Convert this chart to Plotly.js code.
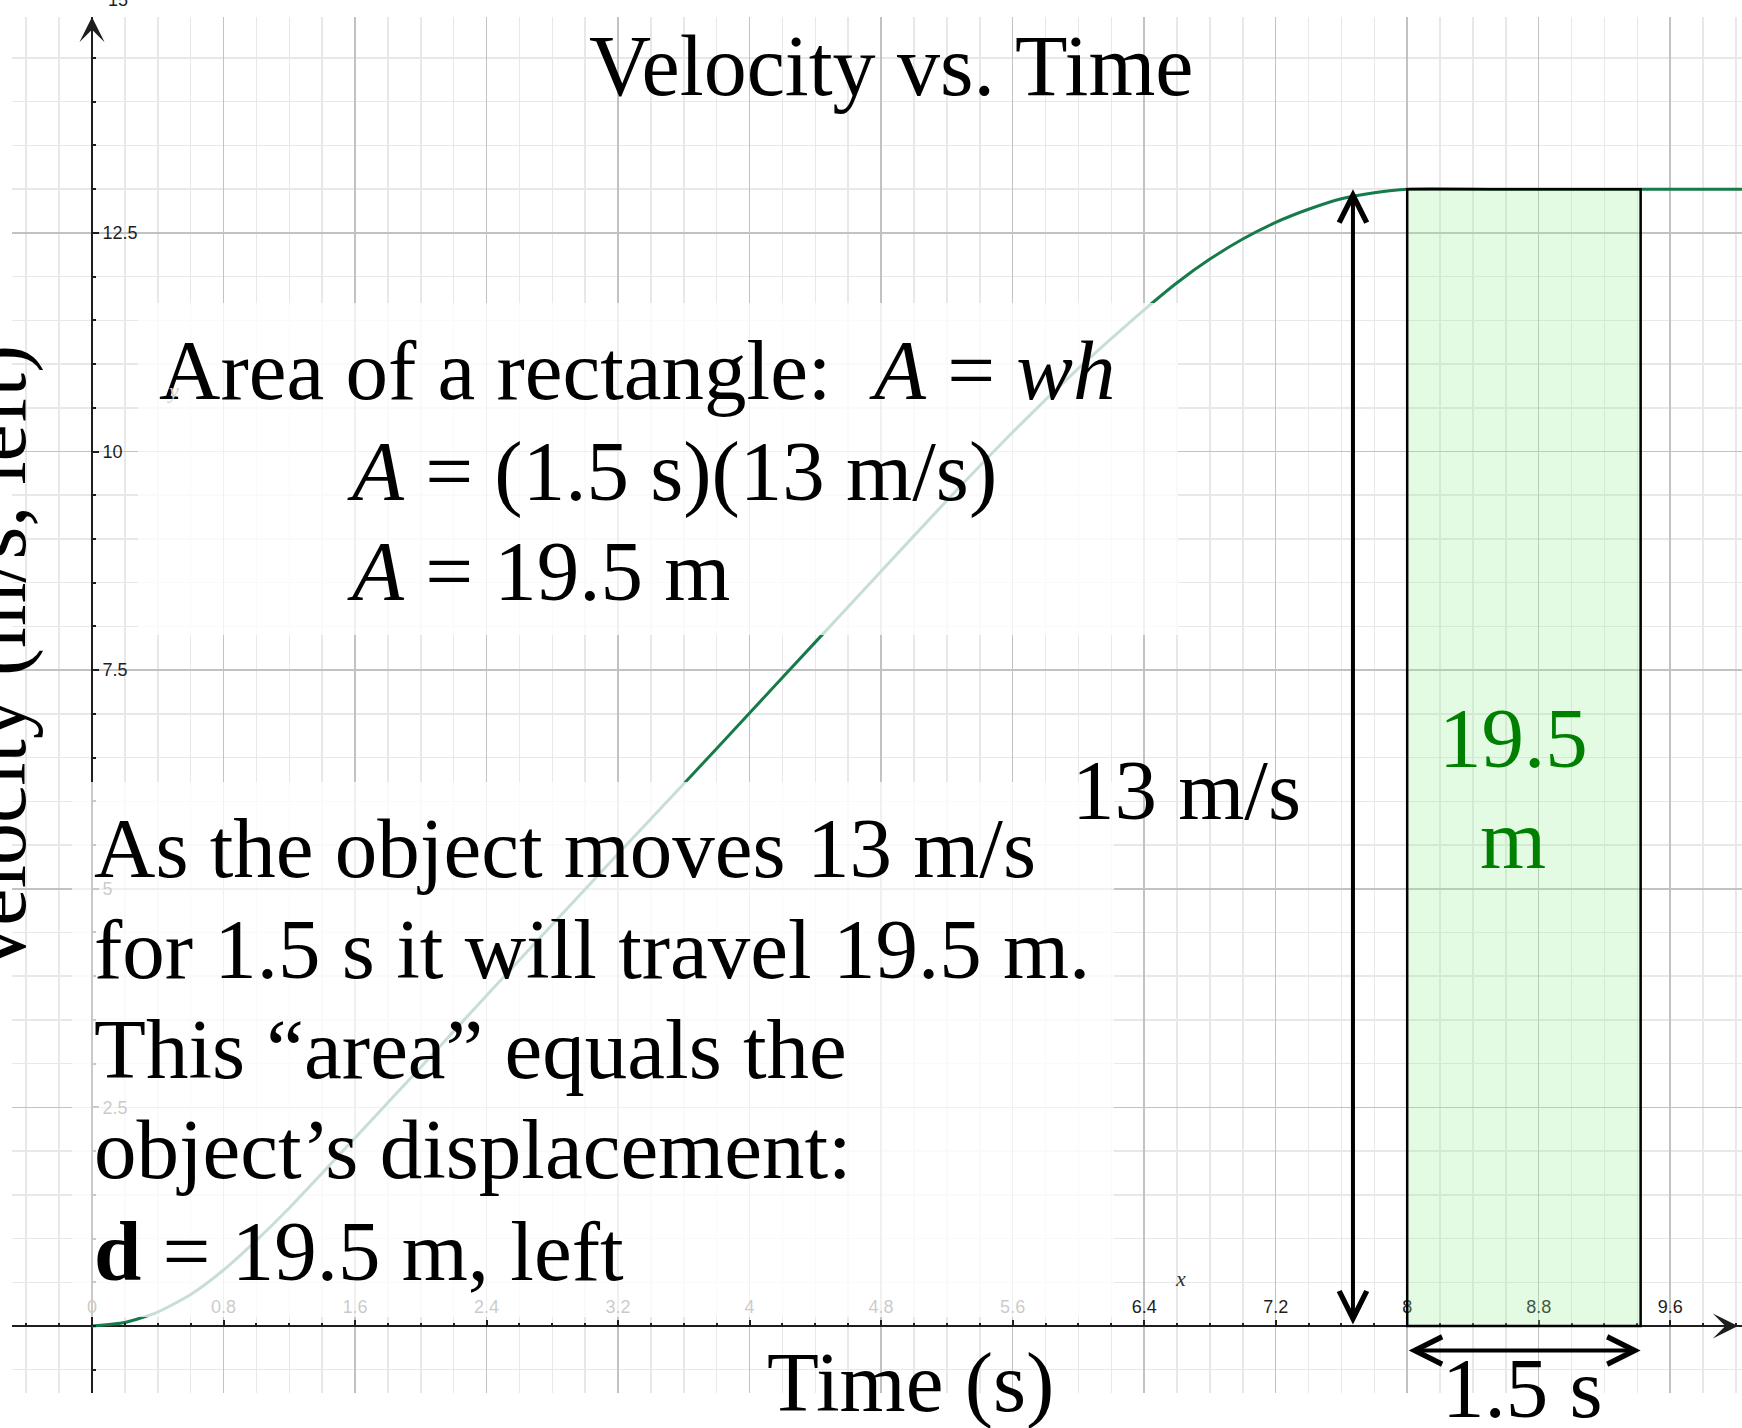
<!DOCTYPE html>
<html>
<head>
<meta charset="utf-8">
<script src="https://cdn.plot.ly/plotly-3.0.1.min.js"></script>
<style>html,body{margin:0;padding:0;background:#fff;}#chart{width:1742px;height:1428px;}</style>
</head>
<body>
<div id="chart"></div>
<script>
// ---- data ----
const time = [0, 0.2, 0.4, 0.6, 0.8, 1.0, 1.2, 1.6, 2.0, 2.4, 2.8, 3.2, 3.6, 4.0, 4.4, 4.8, 5.2, 5.6, 6.0, 6.2, 6.4, 6.6, 6.8, 7.0, 7.2, 7.4, 7.6, 7.8, 8.0, 8.5, 9.0, 9.5, 10.1];
const velocity = [0, 0.04, 0.16, 0.36, 0.64, 0.98, 1.35, 2.15, 2.96, 3.78, 4.59, 5.40, 6.20, 7.01, 7.82, 8.63, 9.44, 10.22, 10.95, 11.29, 11.62, 11.93, 12.2, 12.43, 12.62, 12.77, 12.89, 12.96, 13, 13, 13, 13, 13];
const xTickVals = [0, 0.8, 1.6, 2.4, 3.2, 4, 4.8, 5.6, 6.4, 7.2, 8, 8.8, 9.6];
const xTickText = ['0', '0.8', '1.6', '2.4', '3.2', '4', '4.8', '5.6', '6.4', '7.2', '8', '8.8', '9.6'];
const yTickVals = [2.5, 5, 7.5, 10, 12.5];
const yTickText = ['2.5', '5', '7.5', '10', '12.5'];
const rectTime = [8.0, 9.42];      // start / end of the 1.5 s interval as drawn
const rectVel = [0, 13];           // rectangle height: 13 m/s
const heightArrowTime = 7.67;      // where the 13 m/s arrow stands
const widthArrowVel = -0.28;       // where the 1.5 s arrow lies

// ---- page geometry ----
const W = 1742, H = 1428, ML = 12, MR = 0, MT = 17, MB = 35;
const X0 = 92, Y0 = 1326, SX = 164.4, SY = 87.45;   // pixel of origin, px per unit
const xRange = [(ML - X0) / SX, (W - MR - X0) / SX];
const yRange = [(Y0 - (H - MB)) / SY, (Y0 - MT) / SY];
const dX = p => (p - X0) / SX;          // pixel -> data
const dY = p => (Y0 - p) / SY;
const pX = p => (p - ML) / (W - ML - MR); // pixel -> paper
const pY = p => (H - MB - p) / (H - MT - MB);

const xPos = (0 - yRange[0]) / (yRange[1] - yRange[0]);
const yPos = (0 - xRange[0]) / (xRange[1] - xRange[0]);

const AXC = '#1e1e1e';
const MAJ = '#c2c2c2', MIN = '#e8e8e8';
const SERIF = '"Liberation Serif", "Times New Roman", serif';
const SANS = '"Liberation Sans", Arial, sans-serif';

const traces = [{
  type: 'scatter', mode: 'lines', x: time, y: velocity,
  line: {color: '#177a4a', width: 3, shape: 'spline', smoothing: 0.6},
  hoverinfo: 'skip', showlegend: false, xaxis: 'x', yaxis: 'y'
}];

function txt(text, xpx, ypxCenter, size, opts) {
  return Object.assign({
    text: text, xref: 'paper', yref: 'paper', x: pX(xpx), y: pY(ypxCenter),
    xanchor: 'left', yanchor: 'middle', showarrow: false,
    font: {family: SERIF, size: size, color: '#000'}
  }, opts || {});
}
const F = 85, C = 29; // font size, baseline->center offset
const NB = '\u00a0';

const annotations = [
  txt('Area of a rectangle:' + NB + NB + '<i>A</i> = <i>wh</i>', 157, 399 - C, F),
  txt('<i>A</i> = (1.5 s)(13 m/s)', 345, 501 - C, F),
  txt('<i>A</i> = 19.5 m', 345, 600 - C, F),
  txt('As the object moves 13 m/s', 92, 877 - C, F),
  txt('for 1.5 s it will travel 19.5 m.', 92, 978 - C, F),
  txt('This “area” equals the', 92, 1078 - C, F),
  txt('object’s displacement:', 92, 1178 - C, F),
  txt('<b>d</b> = 19.5 m, left', 92, 1280 - C, F),
  txt('13 m/s', 1070, 819 - C, F),
  txt('19.5', 1513, 767 - C, F, {xanchor: 'center', font: {family: SERIF, size: F, color: '#008000'}}),
  txt('m', 1513, 868 - C, F, {xanchor: 'center', font: {family: SERIF, size: F, color: '#008000'}}),
  txt('1.5 s', 1522, 1417 - C, F, {xanchor: 'center'}),
  txt('Time (s)', 910, 1411 - C, F, {xanchor: 'center'}),
  txt('Velocity vs. Time', 891, 95 - C, 86, {xanchor: 'center'}),
  txt('Velocity (m/s, left)', -3, 661, 84, {xanchor: 'center', textangle: -90}),
  txt('<i>x</i>', 1180, 1278, 22, {xanchor: 'center', font: {family: SERIF, size: 22, color: '#333'}}),
  txt('<i>y</i>', 173, 390, 22, {xanchor: 'center', font: {family: SERIF, size: 22, color: '#d0d0d0'}}),
  txt('15', 118, 0, 18, {xanchor: 'center', font: {family: SANS, size: 18, color: AXC}}),
  // axis arrowheads
  {x: 0, y: dY(17), ax: 0, ay: dY(70), xref: 'x', yref: 'y', axref: 'x', ayref: 'y', text: '',
   showarrow: true, arrowhead: 3, arrowsize: 2.1, arrowwidth: 2, arrowcolor: AXC, standoff: 0},
  {x: dX(1738), y: 0, ax: dX(1680), ay: 0, xref: 'x', yref: 'y', axref: 'x', ayref: 'y', text: '',
   showarrow: true, arrowhead: 3, arrowsize: 2.1, arrowwidth: 2, arrowcolor: AXC, standoff: 0},
  // 13 m/s double arrow
  {x: heightArrowTime, y: rectVel[1], ax: heightArrowTime, ay: rectVel[0], xref: 'x', yref: 'y', axref: 'x', ayref: 'y',
   text: '', showarrow: true, arrowside: 'end+start', arrowhead: 5, startarrowhead: 5,
   arrowsize: 1.35, startarrowsize: 1.35, arrowwidth: 4, arrowcolor: '#000', standoff: 0, startstandoff: 0},
  // 1.5 s double arrow
  {x: rectTime[1], y: widthArrowVel, ax: rectTime[0], ay: widthArrowVel, xref: 'x', yref: 'y', axref: 'x', ayref: 'y',
   text: '', showarrow: true, arrowside: 'end+start', arrowhead: 5, startarrowhead: 5,
   arrowsize: 1.35, startarrowsize: 1.35, arrowwidth: 4, arrowcolor: '#000', standoff: 0, startstandoff: 0}
];

const shapes = [
  // translucent white text panels
  {type: 'rect', xref: 'x', yref: 'y', x0: dX(138), x1: dX(1178), y0: dY(635), y1: dY(303),
   fillcolor: 'rgba(255,255,255,0.76)', line: {width: 0}, layer: 'above'},
  {type: 'rect', xref: 'x', yref: 'y', x0: dX(72), x1: dX(1114), y0: dY(1317), y1: dY(782),
   fillcolor: 'rgba(255,255,255,0.76)', line: {width: 0}, layer: 'above'},
  // the area rectangle
  {type: 'rect', xref: 'x', yref: 'y', x0: rectTime[0], x1: rectTime[1], y0: rectVel[0], y1: rectVel[1],
   fillcolor: 'rgba(150,236,150,0.27)', line: {color: '#000', width: 2.5}, layer: 'above'}
];

const tickCommon = {tickcolor: AXC, tickwidth: 2};
const layout = {
  width: W, height: H,
  margin: {l: ML, r: MR, t: MT, b: MB, pad: 0},
  paper_bgcolor: '#fff', plot_bgcolor: '#fff',
  showlegend: false, hovermode: false,
  xaxis: Object.assign({
    range: xRange, anchor: 'free', position: xPos, side: 'top',
    tickmode: 'array', tickvals: xTickVals, ticktext: xTickText,
    ticks: 'outside', ticklen: 6,
    showgrid: true, gridcolor: MAJ, gridwidth: 1.5,
    minor: {dtick: 0.2, tick0: 0, ticks: 'outside', ticklen: 3, tickwidth: 2, tickcolor: AXC,
            showgrid: true, gridcolor: MIN, gridwidth: 1.5},
    zeroline: true, zerolinecolor: AXC, zerolinewidth: 2, showline: false,
    tickfont: {family: SANS, size: 18, color: AXC}, fixedrange: true
  }, tickCommon),
  xaxis2: Object.assign({
    range: xRange, overlaying: 'x', anchor: 'free', position: xPos, side: 'bottom',
    tickmode: 'array', tickvals: xTickVals, showticklabels: false,
    ticks: 'outside', ticklen: 6,
    minor: {dtick: 0.2, tick0: 0, ticks: 'outside', ticklen: 3, tickwidth: 2, tickcolor: AXC, showgrid: false},
    showgrid: false, zeroline: false, showline: false, fixedrange: true
  }, tickCommon),
  yaxis: Object.assign({
    range: yRange, anchor: 'free', position: yPos, side: 'right',
    tickmode: 'array', tickvals: yTickVals, ticktext: yTickText,
    ticks: 'outside', ticklen: 6,
    showgrid: true, gridcolor: MAJ, gridwidth: 1.5,
    minor: {dtick: 0.5, tick0: 0, ticks: 'outside', ticklen: 3, tickwidth: 2, tickcolor: AXC,
            showgrid: true, gridcolor: MIN, gridwidth: 1.5},
    zeroline: true, zerolinecolor: AXC, zerolinewidth: 2, showline: false,
    tickfont: {family: SANS, size: 18, color: AXC}, fixedrange: true
  }, tickCommon),
  yaxis2: Object.assign({
    range: yRange, overlaying: 'y', anchor: 'free', position: yPos, side: 'left',
    tickmode: 'array', tickvals: yTickVals, showticklabels: false,
    ticks: 'outside', ticklen: 6,
    minor: {dtick: 0.5, tick0: 0, ticks: 'outside', ticklen: 3, tickwidth: 2, tickcolor: AXC, showgrid: false},
    showgrid: false, zeroline: false, showline: false, fixedrange: true
  }, tickCommon),
  shapes: shapes,
  annotations: annotations
};

Plotly.newPlot('chart', traces, layout, {staticPlot: true, displayModeBar: false});
</script>
</body>
</html>
